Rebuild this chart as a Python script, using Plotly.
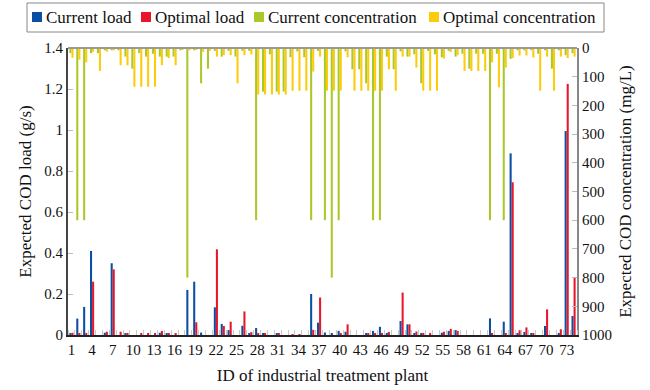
import plotly.graph_objects as go

plant_ids = list(range(1, 75))
tick_labels = [str(i) for i in range(1, 75, 3)]

current_load = [0.008, 0.08, 0.137, 0.41, 0, 0.011, 0.35, 0, 0.005, 0,
                0, 0, 0, 0.011, 0.01, 0, 0, 0.22, 0.26, 0.012,
                0, 0.135, 0.054, 0.024, 0, 0.045, 0.005, 0.034, 0.005, 0,
                0.005, 0, 0, 0, 0, 0.2, 0.06, 0.012, 0.008, 0.02,
                0.016, 0, 0, 0.008, 0.02, 0.04, 0.008, 0, 0.068, 0.052,
                0.006, 0.008, 0, 0, 0.011, 0.02, 0.024, 0, 0, 0,
                0, 0.081, 0, 0.065, 0.886, 0.01, 0.015, 0.005, 0, 0.044,
                0, 0.01, 0.995, 0.093]
optimal_load = [0.011, 0.005, 0.01, 0.26, 0, 0.016, 0.32, 0.016, 0.01, 0,
                0.007, 0.005, 0.01, 0.02, 0.01, 0.008, 0, 0, 0.062, 0,
                0, 0.418, 0.044, 0.065, 0, 0.115, 0.014, 0.01, 0.005, 0,
                0.005, 0, 0.003, 0.003, 0, 0.025, 0.183, 0, 0, 0.005,
                0.052, 0, 0, 0.01, 0.008, 0.01, 0.015, 0, 0.207, 0.052,
                0.017, 0.01, 0.01, 0, 0.016, 0.03, 0.02, 0, 0, 0,
                0, 0.005, 0, 0.007, 0.745, 0.023, 0.037, 0.01, 0, 0.125,
                0, 0.028, 1.225, 0.28]
current_conc = [18, 600, 600, 18, 18, 8, 8, 8, 30, 72,
                18, 30, 20, 30, 30, 30, 8, 800, 8, 123,
                72, 10, 30, 10, 30, 10, 10, 600, 152, 22,
                152, 152, 32, 12, 32, 600, 10, 600, 800, 600,
                12, 74, 74, 123, 600, 600, 30, 74, 12, 30,
                22, 123, 10, 22, 32, 10, 30, 20, 72, 20,
                20, 600, 20, 600, 38, 8, 8, 8, 20, 8,
                72, 8, 25, 18]
optimal_conc = [34, 40, 50, 13, 80, 13, 8, 60, 60, 135,
                135, 135, 135, 60, 35, 60, 6, 8, 6, 13,
                10, 30, 25, 25, 123, 25, 22, 162, 162, 162,
                162, 162, 149, 149, 149, 82, 30, 149, 149, 149,
                32, 149, 149, 149, 149, 149, 74, 149, 30, 30,
                68, 149, 149, 149, 37, 14, 25, 80, 80, 80,
                80, 50, 137, 68, 35, 26, 26, 33, 149, 30,
                149, 30, 35, 30]

series_names = ["Current load", "Optimal load",
                "Current concentration", "Optimal concentration"]

BLUE = "#0b4ea2"
RED = "#e8162b"
GREEN = "#aac82a"
YELLOW = "#fccb0a"
COLORS = [BLUE, RED, GREEN, YELLOW]
FONT = "Liberation Serif"
W = 0.3

# plot-area geometry (pixels) for the hand-made legend
L, R, T, B = 68, 577, 48, 335
PW, PH = R - L, B - T


def px(xp):
    return (xp - L) / PW


def py(yp):
    return (B - yp) / PH


fig = go.Figure()
fig.add_trace(go.Bar(x=plant_ids, y=current_load, name=series_names[0],
                     marker=dict(color=BLUE, line=dict(width=0)),
                     width=W, offset=-W, yaxis="y"))
fig.add_trace(go.Bar(x=plant_ids, y=optimal_load, name=series_names[1],
                     marker=dict(color=RED, line=dict(width=0)),
                     width=W, offset=0, yaxis="y"))
fig.add_trace(go.Bar(x=plant_ids, y=current_conc, name=series_names[2],
                     marker=dict(color=GREEN, line=dict(width=0)),
                     width=W, offset=-W, yaxis="y2"))
fig.add_trace(go.Bar(x=plant_ids, y=optimal_conc, name=series_names[3],
                     marker=dict(color=YELLOW, line=dict(width=0)),
                     width=W, offset=0, yaxis="y2"))

fig.update_layout(
    width=650, height=390,
    margin=dict(l=L, r=650 - R, t=T, b=390 - B, autoexpand=False),
    paper_bgcolor="white", plot_bgcolor="white",
    barmode="overlay",
    font=dict(family=FONT, size=15, color="#111"),
    showlegend=False,
    xaxis=dict(range=[0.5, 74.5], tickmode="array", automargin=False,
               tickvals=list(range(1, 75, 3)), ticktext=tick_labels,
               showline=True, linecolor="#222", linewidth=2,
               ticks="", showgrid=False, zeroline=False,
               tickfont=dict(size=15),
               minor=dict(tickmode="linear", tick0=0.5, dtick=1,
                          ticks="inside", ticklen=5, tickcolor="#c8c8c8",
                          tickwidth=1, showgrid=False),
               title=dict(text="ID of industrial treatment plant",
                          font=dict(size=17), standoff=12)),
    yaxis=dict(range=[0, 1.4], tickvals=[0, 0.2, 0.4, 0.6, 0.8, 1.0, 1.2, 1.4],
               ticktext=["0", "0.2", "0.4", "0.6", "0.8", "1", "1.2", "1.4"],
               automargin=False,
               showline=True, linecolor="#444", linewidth=2,
               ticks="inside", ticklen=5, tickcolor="#bbb",
               showgrid=False, zeroline=False, tickfont=dict(size=15),
               title=dict(text="Expected COD load (g/s)", font=dict(size=17),
                          standoff=8)),
    yaxis2=dict(range=[1000, 0], overlaying="y", side="right",
                tickvals=list(range(0, 1001, 100)), automargin=False,
                showline=True, linecolor="#888", linewidth=2,
                ticks="inside", ticklen=5, tickcolor="#bbb",
                showgrid=False, zeroline=False, tickfont=dict(size=15),
                title=dict(text="Expected COD concentration (mg/L)",
                           font=dict(size=17), standoff=8)),
)

shapes = [dict(type="line", xref="paper", yref="paper", x0=0, x1=1, y0=1, y1=1,
               line=dict(color="#999", width=2)),
          dict(type="rect", xref="paper", yref="paper",
               x0=px(27), x1=px(604), y0=py(3), y1=py(32),
               line=dict(color="#888", width=1), fillcolor="white")]
annotations = []
sq_x = [32, 141, 254, 429]
for sx, name, col in zip(sq_x, series_names, COLORS):
    shapes.append(dict(type="rect", xref="paper", yref="paper",
                       x0=px(sx), x1=px(sx + 10), y0=py(22), y1=py(12),
                       line=dict(width=0), fillcolor=col))
    annotations.append(dict(x=px(sx + 12), y=py(17.5), xref="paper", yref="paper",
                            text=name, showarrow=False, xanchor="left",
                            yanchor="middle",
                            font=dict(family=FONT, size=17, color="#111")))
fig.update_layout(shapes=shapes, annotations=annotations)

fig.write_html("out.html",
               config={"displayModeBar": False},
               post_script="document.body.style.margin='0';"
                           "document.body.style.padding='0';")
